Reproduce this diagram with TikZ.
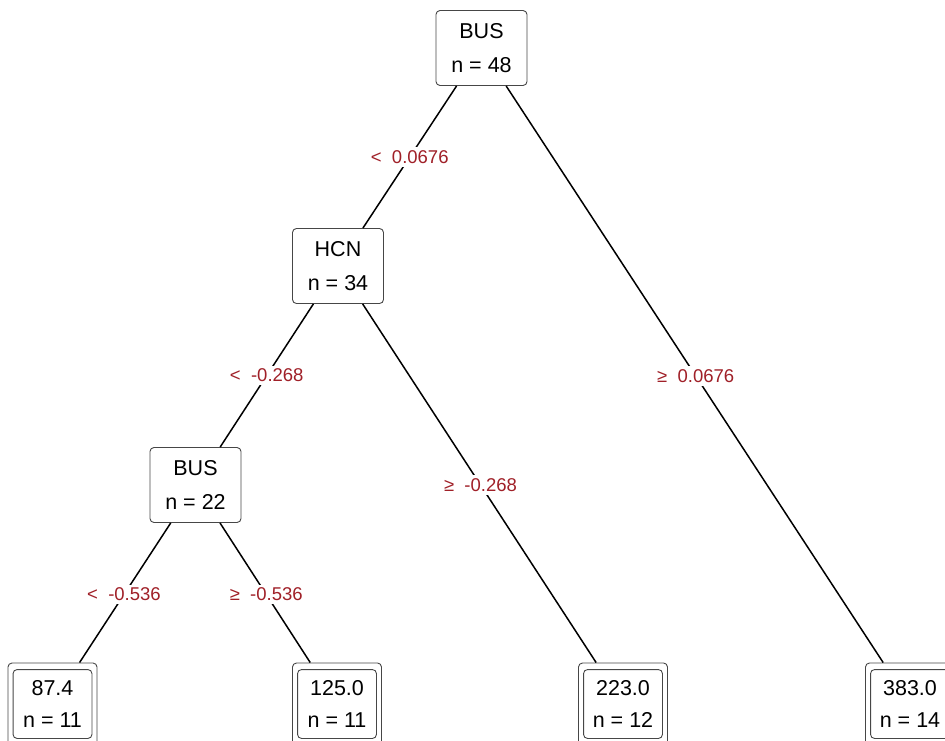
\documentclass[tikz,border=0pt]{standalone}
\usepackage{fontspec}
\setmainfont{Liberation Sans}
\usetikzlibrary{calc}
\definecolor{lbl}{RGB}{160,32,40}
\definecolor{boxc}{RGB}{70,70,70}
\begin{document}
\begin{tikzpicture}[x=1pt,y=-1pt,
  split/.style={draw=boxc, line width=0.9pt, rounded corners=4pt, minimum width=91pt, minimum height=75pt, inner sep=0pt, align=center, font=\fontsize{21.5}{34}\selectfont},
  leaf/.style={draw=boxc, line width=0.9pt, rounded corners=4pt, minimum width=89pt, minimum height=82pt, inner sep=0pt, align=center, font=\fontsize{21.5}{32}\selectfont},
  edge/.style={line width=1.5pt, black},
  lab/.style={fill=white, text=lbl, inner sep=3pt, font=\fontsize{18.5}{20}\selectfont}]
\useasboundingbox (0,0) rectangle (945,740);
\clip (0,0) rectangle (945,740);
% nodes
\node[split] (r) at (481.5,48) {BUS\\n = 48};
\node[split] (h) at (338,266) {HCN\\n = 34};
\node[split] (b) at (195.5,485) {BUS\\n = 22};
\node[leaf] (l1) at (52.5,704) {87.4\\n = 11};
\node[leaf] (l2) at (337,704) {125.0\\n = 11};
\node[leaf] (l3) at (623,704) {223.0\\n = 12};
\node[leaf] (l4) at (910,704) {383.0\\n = 14};
\foreach \L in {l1,l2,l3,l4}{
  \draw[draw=boxc, line width=0.9pt, rounded corners=4pt] ([xshift=5.5pt,yshift=-7pt]\L.north west) rectangle ([xshift=-5.5pt,yshift=7pt]\L.south east);
}
% edges
\draw[edge] (r) -- (h);
\draw[edge] (r) -- (l4);
\draw[edge] (h) -- (b);
\draw[edge] (h) -- (l3);
\draw[edge] (b) -- (l1);
\draw[edge] (b) -- (l2);
% labels
\node[lab] (e1) at ($(r)!0.5!(h)$) {<\ \ 0.0676};
\node[lab] (e2) at ($(r)!0.5!(l4)$) {≥\ \ 0.0676};
\node[lab] (e3) at ($(h)!0.5!(b)$) {<\ \ -0.268};
\node[lab] (e4) at ($(h)!0.5!(l3)$) {≥\ \ -0.268};
\node[lab] (e5) at ($(b)!0.5!(l1)$) {<\ \ -0.536};
\node[lab] (e6) at ($(b)!0.5!(l2)$) {≥\ \ -0.536};
\end{tikzpicture}
\end{document}
